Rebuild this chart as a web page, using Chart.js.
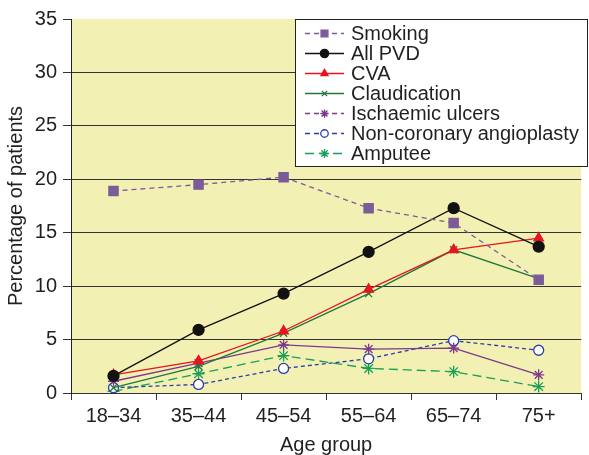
<!DOCTYPE html>
<html>
<head>
<meta charset="utf-8">
<script src="https://cdn.jsdelivr.net/npm/chart.js@4/dist/chart.umd.min.js"></script>
<style>
  html, body { margin: 0; padding: 0; background: #fff; }
  #wrap { width: 589px; height: 455px; }
</style>
</head>
<body>
<div id="wrap"><canvas id="pvd-age-chart" width="589" height="455"></canvas></div>
<script>
// Age groups (x axis categories)
const ageGroups = ["18–34", "35–44", "45–54", "55–64", "65–74", "75+"];

// Percentage of patients per series
const smoking = [18.9, 19.5, 20.2, 17.3, 15.9, 10.6];
const allPvd = [1.6, 5.9, 9.3, 13.2, 17.3, 13.7];
const cva = [1.7, 3.0, 5.8, 9.7, 13.4, 14.5];
const claudication = [0.5, 2.5, 5.6, 9.3, 13.4, 10.7];
const ischaemicUlcers = [1.1, 2.8, 4.5, 4.1, 4.2, 1.7];
const angioplasty = [0.5, 0.8, 2.3, 3.2, 4.9, 4.0];
const amputee = [0.15, 1.8, 3.5, 2.3, 2.0, 0.6];

// Y axis ticks
const yTicks = [0, 5, 10, 15, 20, 25, 30, 35];

const FONT = "'Liberation Sans', Arial, Helvetica, sans-serif";
const TEXT = "#231f20";

// Yellow plot background
const plotBackground = {
    id: "plotBackground",
    beforeDraw(chart) {
        const a = chart.chartArea;
        const ctx = chart.ctx;
        ctx.save();
        ctx.fillStyle = "#f3f0b4";
        ctx.fillRect(a.left, a.top, a.right - a.left, a.bottom - a.top);
        ctx.restore();
    }
};

// Boxed legend in the top right corner
const boxLegend = {
    id: "boxLegend",
    afterDraw(chart) {
        const ctx = chart.ctx;
        ctx.save();
        ctx.fillStyle = "#fff";
        ctx.fillRect(295.5, 19.5, 292, 147);
        ctx.strokeStyle = "#222";
        ctx.lineWidth = 1;
        ctx.strokeRect(295.5, 19.5, 292, 147);

        chart.data.datasets.forEach((ds, i) => {
            const y = 33.5 + i * 20;
            ctx.strokeStyle = ds.borderColor;
            ctx.lineWidth = ds.borderWidth;
            ctx.setLineDash(ds.legendDash || []);
            ctx.beginPath();
            ctx.moveTo(305, y);
            ctx.lineTo(344, y);
            ctx.stroke();
            ctx.setLineDash([]);

            ctx.fillStyle = ds.pointBackgroundColor;
            ctx.strokeStyle = ds.pointBorderColor;
            ctx.lineWidth = ds.pointBorderWidth;
            Chart.helpers.drawPoint(ctx, {
                pointStyle: ds.pointStyle,
                radius: ds.pointRadius * 0.75,
                borderWidth: ds.pointBorderWidth,
                rotation: 0
            }, 324.5, y);

            ctx.fillStyle = TEXT;
            ctx.font = "20px " + FONT;
            ctx.textBaseline = "middle";
            ctx.textAlign = "left";
            ctx.fillText(ds.label, 351, y + 1);
        });
        ctx.restore();
    }
};

function series(label, data, color, style, radius, dash, legendDash, fill) {
    return {
        label: label,
        data: data,
        borderColor: color,
        borderWidth: 1.3,
        borderDash: dash,
        legendDash: legendDash,
        pointStyle: style,
        pointRadius: radius,
        pointBackgroundColor: fill || color,
        pointBorderColor: color,
        pointBorderWidth: 1.3,
        tension: 0,
        fill: false
    };
}

new Chart("pvd-age-chart", {
    type: "line",
    data: {
        labels: ageGroups,
        datasets: [
            series("Smoking", smoking, "#7b5c98", "rect", 6.5, [5, 4], [5, 4]),
            series("All PVD", allPvd, "#111111", "circle", 5.5, [], []),
            series("CVA", cva, "#e8141e", "triangle", 5.5, [], []),
            series("Claudication", claudication, "#1e7a3c", "crossRot", 5, [], []),
            series("Ischaemic ulcers", ischaemicUlcers, "#7d3a8a", "star", 5.5, [], [5, 4]),
            series("Non-coronary angioplasty", angioplasty, "#2c3ea6", "circle", 5, [4, 3], [5, 4], "#ffffff"),
            series("Amputee", amputee, "#1aa055", "star", 6, [9, 5], [9, 5])
        ]
    },
    options: {
        responsive: false,
        animation: false,
        layout: { padding: { top: 19, right: 0, bottom: 0, left: 0 } },
        plugins: {
            legend: { display: false },
            tooltip: { enabled: false }
        },
        scales: {
            x: {
                offset: true,
                afterFit: scale => { scale.height = 62; },
                grid: {
                    offset: true,
                    drawOnChartArea: false,
                    tickLength: 7,
                    color: "#333"
                },
                border: { color: "#333", width: 1 },
                ticks: {
                    color: TEXT,
                    padding: 4,
                    maxRotation: 0,
                    font: { family: FONT, size: 20 }
                },
                title: {
                    display: true,
                    text: "Age group",
                    color: TEXT,
                    padding: { top: 0, bottom: 0 },
                    font: { family: FONT, size: 20, lineHeight: 1 }
                }
            },
            y: {
                min: 0,
                max: 35,
                afterFit: scale => { scale.width = 71; },
                afterBuildTicks: scale => { scale.ticks = yTicks.map(v => ({ value: v })); },
                grid: {
                    color: ctx => (ctx.tick && ctx.tick.value === 35 ? "rgba(0,0,0,0)" : "#333"),
                    tickColor: "#333",
                    tickLength: 8
                },
                border: { color: "#222", width: 1 },
                ticks: {
                    color: TEXT,
                    padding: 6,
                    font: { family: FONT, size: 20 }
                },
                title: {
                    display: true,
                    text: "Percentage of patients",
                    color: TEXT,
                    padding: { top: 4, bottom: 4 },
                    font: { family: FONT, size: 20 }
                }
            }
        }
    },
    plugins: [plotBackground, boxLegend]
});
</script>
</body>
</html>
